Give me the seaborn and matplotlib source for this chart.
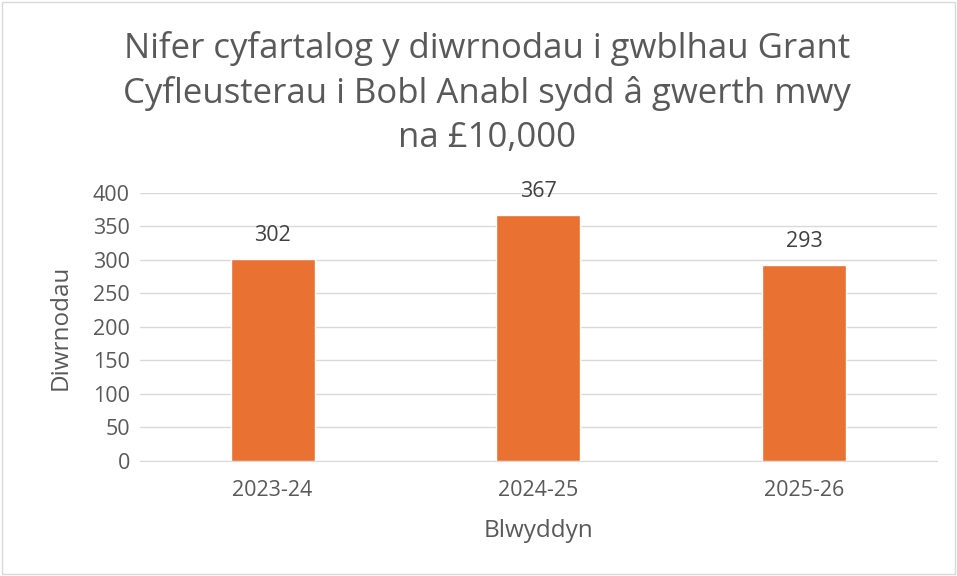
import pandas as pd
import matplotlib.pyplot as plt
import seaborn as sns

# Chart data
years = ['2023-24', '2024-25', '2025-26']
days = [302, 367, 293]
y_ticks = [0, 50, 100, 150, 200, 250, 300, 350, 400]

title = ('Nifer cyfartalog y diwrnodau i gwblhau Grant\n'
         'Cyfleusterau i Bobl Anabl sydd â gwerth mwy\n'
         'na £10,000')

df = pd.DataFrame({'Blwyddyn': years, 'Diwrnodau': days})

sns.set_style('white')
plt.rcParams['font.family'] = ['Open Sans', 'DejaVu Sans']

fig = plt.figure(figsize=(9.57, 5.76), dpi=100)
ax = fig.add_axes([0.146, 0.1997, 0.833, 0.4653])

sns.barplot(data=df, x='Blwyddyn', y='Diwrnodau', color='#E97132',
            width=0.316, saturation=1, ax=ax, zorder=3)

# data labels above the bars
for i, v in enumerate(days):
    ax.annotate(str(v), (i, v), xytext=(0, 17), textcoords='offset points',
                ha='center', va='center', fontsize=15.5, color='#404040')

ax.set_ylim(0, 400)
ax.set_yticks(y_ticks)
ax.grid(axis='y', color='#D9D9D9', linewidth=1, zorder=0)
ax.tick_params(axis='y', labelsize=15.5, colors='#595959', length=0, pad=7)
ax.tick_params(axis='x', labelsize=15.5, colors='#595959', length=0, pad=14)
ax.set_xlabel('Blwyddyn', fontsize=17.5, color='#595959', labelpad=13)
ax.set_ylabel('Diwrnodau', fontsize=17.5, color='#595959', labelpad=15)

for side in ['top', 'right', 'left']:
    ax.spines[side].set_visible(False)
ax.spines['bottom'].set_color('#D9D9D9')

fig.text(0.509, 0.8385, title, ha='center', va='center', fontsize=25,
         color='#595959', linespacing=1.36)

# light frame round the chart
fig.patches.append(plt.Rectangle((0.002, 0.003), 0.996, 0.994,
                                 transform=fig.transFigure, fill=False,
                                 edgecolor='#D9D9D9', linewidth=1))

plt.savefig('out.png', dpi=100)
